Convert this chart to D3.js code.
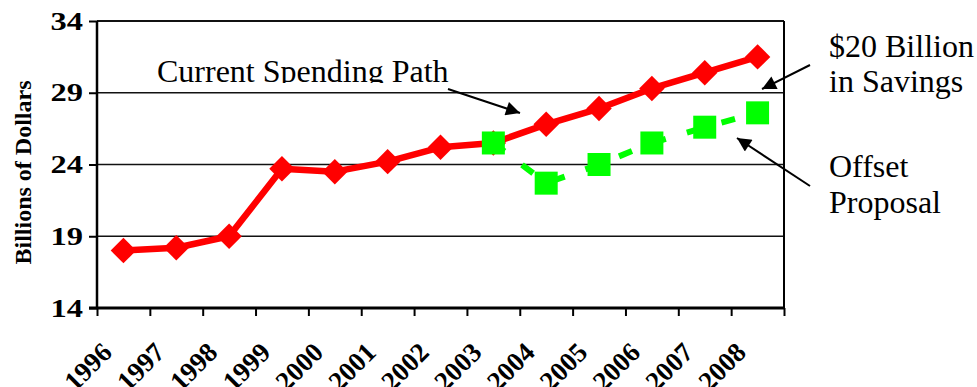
<!DOCTYPE html>
<html><head><meta charset="utf-8">
<script src="https://cdn.jsdelivr.net/npm/d3@7"></script>
<style>body{margin:0;background:#fff} svg{display:block}</style>
</head><body><svg id="c" width="977" height="387"></svg>
<script>
// ---- data ----
const years = ["1996","1997","1998","1999","2000","2001","2002","2003","2004","2005","2006","2007","2008"];
const currentPath = [18.0, 18.2, 19.0, 23.7, 23.5, 24.2, 25.2, 25.5, 26.8, 27.9, 29.3, 30.4, 31.5];
const offsetYears = ["2003","2004","2005","2006","2007","2008"];
const offsetProposal = [25.5, 22.7, 24.0, 25.5, 26.6, 27.6];
const yTicks = [14, 19, 24, 29, 34];
const yTitle = "Billions of Dollars";
const labelCurrent = "Current Spending Path";
const labelSavings = ["$20 Billion", "in Savings"];
const labelOffset = ["Offset", "Proposal"];

// ---- layout ----
const W = 977, H = 387;
const m = {left: 97, right: 193, top: 21, bottom: 79};
const svg = d3.select("#c");
const serif = "'Liberation Serif','Times New Roman',serif";

const x = d3.scaleBand().domain(years).range([m.left, W - m.right]).padding(0);
const xEdge = d3.scaleLinear().domain([0, years.length]).range([m.left, W - m.right]);
const y = d3.scaleLinear().domain([14, 34]).range([H - m.bottom, m.top]);
const cx = d => x(d) + x.bandwidth() / 2;

// gridlines
svg.append("g").selectAll("line").data(yTicks.filter(v => v > 14)).join("line")
  .attr("x1", m.left).attr("x2", W - m.right)
  .attr("y1", d => y(d)).attr("y2", d => y(d))
  .attr("stroke", "#111").attr("stroke-width", d => d === 34 ? 2 : 1.6);

// right border
svg.append("line").attr("x1", W - m.right).attr("x2", W - m.right)
  .attr("y1", y(34)).attr("y2", y(14)).attr("stroke", "#000").attr("stroke-width", 2);

// y axis
const yAxis = svg.append("g").attr("transform", `translate(${m.left},0)`)
  .call(d3.axisLeft(y).tickValues(yTicks).tickSize(8).tickPadding(0).tickFormat(d3.format("d")));
yAxis.select(".domain").attr("stroke", "#000").attr("stroke-width", 2.5).attr("d", `M0,${y(34)}V${y(14)}`);
yAxis.selectAll(".tick line").attr("stroke", "#000").attr("stroke-width", 2);
yAxis.selectAll(".tick text")
  .attr("x", null)
  .attr("transform", "translate(-14,0) scale(1.3,1)")
  .attr("font-family", serif).attr("font-weight", "bold")
  .attr("font-size", 25).attr("fill", "#000");

// x axis (ticks at category edges)
const xAxis = svg.append("g").attr("transform", `translate(0,${H - m.bottom})`)
  .call(d3.axisBottom(xEdge).tickValues(d3.range(years.length + 1)).tickSize(8).tickFormat(""));
xAxis.select(".domain").attr("stroke", "#000").attr("stroke-width", 3.2).attr("d", `M${m.left - 8},0H${W - m.right}`);
xAxis.selectAll(".tick line").attr("stroke", "#000").attr("stroke-width", 2);

// x labels rotated
svg.append("g").selectAll("text").data(years).join("text")
  .attr("transform", d => `translate(${cx(d) - 10},${H - m.bottom + 46}) rotate(-45)`)
  .attr("text-anchor", "end")
  .attr("font-family", serif).attr("font-weight", "bold").attr("font-size", 27)
  .text(d => d);

// y title
svg.append("text")
  .attr("transform", `translate(31,${(y(14) + y(34)) / 2 + 8}) rotate(-90)`)
  .attr("text-anchor", "middle")
  .attr("font-family", serif).attr("font-weight", "bold").attr("font-size", 24)
  .text(yTitle);

// red series
const lineR = d3.line().x((d, i) => cx(years[i])).y(d => y(d));
svg.append("path").attr("d", lineR(currentPath)).attr("fill", "none")
  .attr("stroke", "#ff0000").attr("stroke-width", 6.5).attr("stroke-linejoin", "round");
const diamond = d3.symbol().type(d3.symbolSquare).size(18 * 18);
svg.append("g").selectAll("path").data(currentPath).join("path")
  .attr("d", diamond)
  .attr("transform", (d, i) => `translate(${cx(years[i])},${y(d)}) rotate(45)`)
  .attr("fill", "#ff0000");

// green series
const lineG = d3.line().x((d, i) => cx(offsetYears[i])).y(d => y(d));
svg.append("path").attr("d", lineG(offsetProposal)).attr("fill", "none")
  .attr("stroke", "#00ff00").attr("stroke-width", 6).attr("stroke-dasharray", "14 22");
const square = d3.symbol().type(d3.symbolSquare).size(23 * 23);
svg.append("g").selectAll("path").data(offsetProposal).join("path")
  .attr("d", square)
  .attr("transform", (d, i) => `translate(${cx(offsetYears[i])},${y(d)})`)
  .attr("fill", "#00ff00");

// annotations
const defs = svg.append("defs");
defs.append("marker").attr("id", "ah").attr("viewBox", "0 0 10 10")
  .attr("refX", 10).attr("refY", 5).attr("markerWidth", 17).attr("markerHeight", 14)
  .attr("markerUnits", "userSpaceOnUse").attr("orient", "auto")
  .append("path").attr("d", "M0,0L10,5L0,10Z").attr("fill", "#000");
defs.append("clipPath").attr("id", "clipT").append("rect")
  .attr("x", 100).attr("y", 0).attr("width", 500).attr("height", 83);

svg.append("text").attr("clip-path", "url(#clipT)")
  .attr("x", 157).attr("y", 82)
  .attr("font-family", serif).attr("font-size", 32).text(labelCurrent);

const arrows = [[448, 89, 520, 113], [810, 65, 762, 89], [810, 186, 737, 138]];
svg.append("g").selectAll("line").data(arrows).join("line")
  .attr("x1", d => d[0]).attr("y1", d => d[1]).attr("x2", d => d[2]).attr("y2", d => d[3])
  .attr("stroke", "#000").attr("stroke-width", 2).attr("marker-end", "url(#ah)");

const t1 = svg.append("text").attr("font-family", serif).attr("font-size", 32);
labelSavings.forEach((s, i) => t1.append("tspan").attr("x", 829).attr("y", 57 + i * 35).text(s));
const t2 = svg.append("text").attr("font-family", serif).attr("font-size", 32);
labelOffset.forEach((s, i) => t2.append("tspan").attr("x", 829).attr("y", 177 + i * 36).text(s));
</script></body></html>
